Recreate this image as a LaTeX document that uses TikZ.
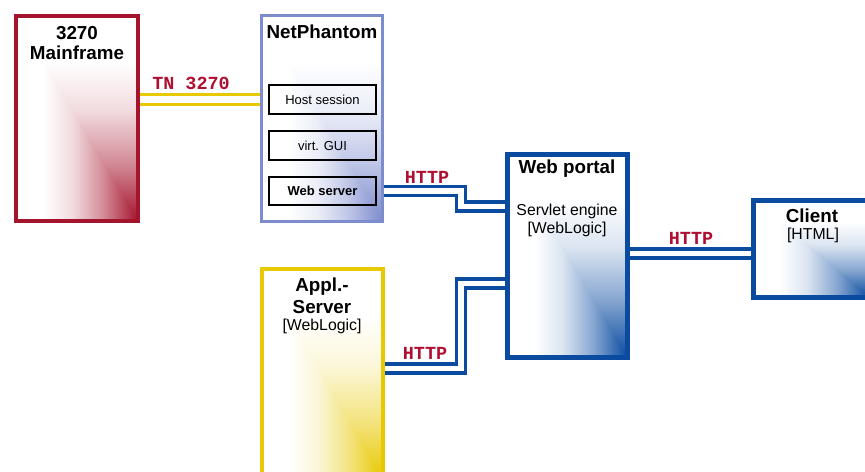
\documentclass[tikz,border=0pt]{standalone}
\usepackage{fontspec}
\setmainfont{Liberation Sans}
\newfontfamily\protofont{Liberation Mono}
\usetikzlibrary{positioning}

\definecolor{mfred}{RGB}{165,20,45}
\definecolor{protored}{RGB}{175,15,50}
\definecolor{asyellow}{RGB}{232,200,0}
\definecolor{npblue}{RGB}{125,140,205}
\definecolor{portblue}{RGB}{10,75,160}
\colorlet{fadecol}{white}

\pgfdeclareverticalshading[fadecol]{downfade}{100bp}{color(0bp)=(fadecol); color(25bp)=(fadecol);
  color(39bp)=(fadecol!50!white); color(52bp)=(fadecol!15!white); color(64bp)=(white); color(100bp)=(white)}
\pgfdeclarehorizontalshading[fadecol]{rightfade}{100bp}{color(0bp)=(white); color(36bp)=(white);
  color(48bp)=(fadecol!15!white); color(61bp)=(fadecol!50!white); color(75bp)=(fadecol); color(100bp)=(fadecol)}

\tikzset{
  fadebox/.style={path picture={
      \colorlet{fadecol}{#1}
      \shade[shading=rightfade] (path picture bounding box.north west) rectangle (path picture bounding box.south east);
      \shade[shading=downfade] (path picture bounding box.north west) -- (path picture bounding box.north east)
            -- (path picture bounding box.south east) -- cycle;}},
  title/.style={font=\fontsize{10.7}{12}\selectfont\bfseries},
  sub/.style={font=\fontsize{9}{11}\selectfont},
  small/.style={font=\fontsize{7.4}{9}\selectfont},
  proto/.style={font=\fontsize{10.5}{12}\selectfont\protofont\bfseries, text=protored},
  part/.style={draw=black, line width=1.1pt, minimum width=2.14cm, minimum height=0.57cm},
  httplink/.style={draw=portblue, line width=2pt, double=white, double distance=3.2pt},
  tnlink/.style={draw=asyellow, line width=2.1pt, double=white, double distance=3.6pt}
}

\begin{document}
\begin{tikzpicture}[x=0.02cm,y=-0.02cm]
        \clip (0,0) rectangle (865,471);
        \fill[white] (0,0) rectangle (865,471);

        \node[draw=mfred, line width=2.27pt, minimum width=2.44cm, minimum height=4.1cm,
              fadebox=mfred] (mf) at (77,118.5) {};
        \node[title] (mfa) at (77,33) {3270};
        \node[title] (mfb) at (77,53) {Mainframe};

        \node[draw=npblue, line width=1.7pt, minimum width=2.42cm, minimum height=4.12cm,
              fadebox=npblue] (np) at (322,118.5) {};
        \node[title] (npt) at (322,32) {NetPhantom};
        \node[part, small] (host) at (322.5,99.5) {Host session};
        \node[part, small] (gui) at (322.5,145.5) {virt. GUI};
        \node[part, small, font=\fontsize{7.4}{9}\selectfont\bfseries] (websrv) at (322.5,191) {Web server};

        \node[draw=asyellow, line width=2.27pt, minimum width=2.42cm, minimum height=4.22cm,
              fadebox=asyellow] (as) at (322.5,374.5) {};
        \node[title] (asa) at (322,287) {Appl.-};
        \node[title] (asb) at (322,307) {Server};
        \node[sub] (asc) at (322,326) {[WebLogic]};

        \node[draw=portblue, line width=2.8pt, minimum width=2.4cm, minimum height=4.06cm,
              fadebox=portblue] (wp) at (567.5,256) {};
        \node[title] (wpt) at (567,169) {Web portal};
        \node[sub] (wpa) at (567,211) {Servlet engine};
        \node[sub] (wpb) at (567,229) {[WebLogic]};

        \node[draw=portblue, line width=2.8pt, minimum width=2.33cm, minimum height=1.94cm,
              fadebox=portblue] (cl) at (812,249) {};
        \node[title] (clt) at (812,216) {Client};
        \node[sub] (cla) at (813,235) {[HTML]};

        \coordinate (jog1) at (461,206.5);
        \coordinate (jog2) at (461,283.5);
        \coordinate (asport) at (420,368.5);
        \coordinate (clport) at (690,253.5);

        \draw[tnlink] (mf.east |- host) -- (np.west |- host);
        \draw[httplink] (np.east |- websrv) -| (jog1) -- (wp.west |- jog1);
        \draw[httplink] (as.east |- asport) -| (jog2) -- (wp.west |- jog2);
        \draw[httplink] (wp.east |- clport) -- (cl.west |- clport);

        \node[proto] (tn) at (191,83) {TN 3270};
        \node[proto] (h1) at (427,177) {HTTP};
        \node[proto] (h2) at (425,353) {HTTP};
        \node[proto] (h3) at (691,238) {HTTP};
\end{tikzpicture}
\end{document}
